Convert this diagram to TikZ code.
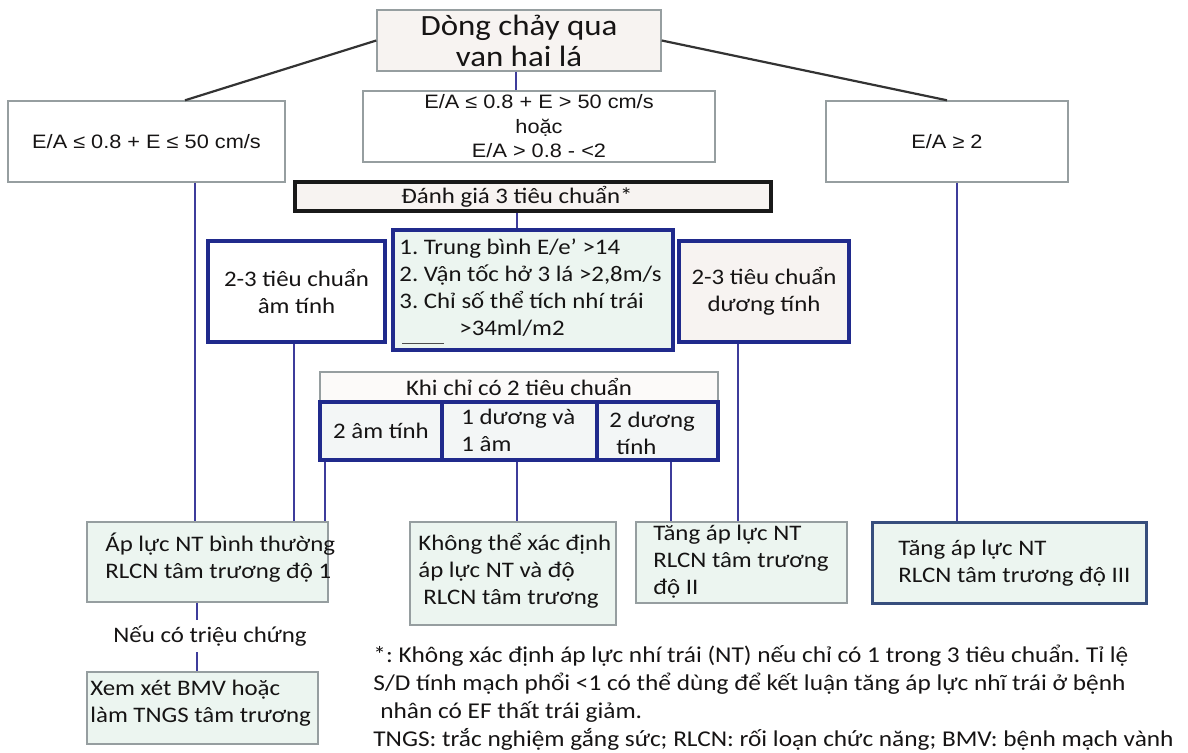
\documentclass[tikz,border=0pt]{standalone}
\usepackage{fontspec}
\setmainfont[FakeStretch=1.12]{Carlito}
\newfontfamily\arialfont[FakeStretch=1.12]{Liberation Sans}
\frenchspacing

\definecolor{softpink}{RGB}{247,243,241}
\definecolor{softgreen}{RGB}{236,245,240}
\definecolor{softgrey}{RGB}{243,246,246}
\definecolor{boxgrey}{RGB}{150,158,160}
\definecolor{boxblue}{RGB}{32,42,140}
\definecolor{linkblue}{RGB}{62,60,155}
\definecolor{slateblue}{RGB}{55,78,125}
\definecolor{inkgrey}{RGB}{22,20,20}

\tikzset{
  every node/.style={text=inkgrey},
  greybox/.style={rectangle, draw=boxgrey, line width=0.7pt, inner sep=0pt},
  bluebox/.style={rectangle, draw=boxblue, line width=1.8pt, inner sep=0pt},
  link/.style={draw=linkblue, line width=1.25pt},
  branch/.style={draw=black!80, line width=1.1pt},
  body/.style={font=\fontsize{11.1}{13.5}\selectfont},
  sans/.style={font=\arialfont\fontsize{9.7}{12.25}\selectfont},
  txt/.style={inner sep=0pt, align=left, font=\fontsize{11.1}{13.5}\selectfont},
}

\begin{document}
\begin{tikzpicture}[x=0.5pt,y=-0.5pt]
    \useasboundingbox (0,0) rectangle (1188,753);

    % mitral inflow
    \node[greybox, fill=softpink, minimum width=142pt, minimum height=30.5pt, align=center, font=\fontsize{14.7}{15.5}\selectfont] (inflow) at (519,40.5) {Dòng chảy qua\\van hai lá};

    % E/A branches
    \node[greybox, fill=white, minimum width=138.5pt, minimum height=40.5pt, sans] (ealow) at (146.5,141.5) {E/A ≤ 0.8 + E ≤ 50 cm/s};
    \node[greybox, fill=white, minimum width=176pt, minimum height=35.5pt, sans, align=center] (eamid) at (539,126.5) {E/A ≤ 0.8 + E > 50 cm/s\\hoặc\\E/A > 0.8 - <2};
    \node[greybox, fill=white, minimum width=121pt, minimum height=40.5pt, sans] (eahigh) at (947,141.5) {E/A ≥ 2};
    \draw[branch] (inflow.west) -- (ealow.north -| 185,0);
    \draw[branch] (inflow.east) -- (eahigh.north);
    \draw[link] (inflow.south -| 516,0) -- (eamid.north -| 516,0);

    % three criteria
    \node[rectangle, draw=black!90, line width=2pt, fill=softpink, minimum width=238pt, minimum height=14.5pt, inner sep=0pt, body] (assess) at (533,196.5) {Đánh giá 3 tiêu chuẩn*\kern16pt};
    \node[bluebox, fill=white, minimum width=88.5pt, minimum height=50.5pt, body, align=center] (negall) at (296.5,291.5) {2-3 tiêu chuẩn\\âm tính};
    \node[bluebox, fill=softgreen, minimum width=140pt, minimum height=60pt] (crit) at (533,290) {};
    \node[txt, anchor=west] (crittext) at (399,288) {1. Trung bình E/e’ >14\\2. Vận tốc hở 3 lá >2,8m/s\\3. Chỉ số thể tích nhí trái\\\hspace*{30pt}>34ml/m2};
    \draw[black!70, line width=0.6pt] ([shift={(5.5pt,4pt)}]crit.south west) -- ++(21pt,0);
    \node[bluebox, fill=softpink, minimum width=85pt, minimum height=50.5pt, body, align=center] (posall) at (764,291.5) {2-3 tiêu chuẩn\\dương tính};
    \draw[link] (assess.south -| 517,0) -- (crit.north -| 517,0);

    % only two criteria
    \node[greybox, fill=softpink!40, minimum width=199pt, minimum height=15pt, body] (onlytwo) at (519,387) {Khi chỉ có 2 tiêu chuẩn};
    \node[bluebox, fill=softgrey, minimum width=61pt, minimum height=29pt, body] (twoneg) at (381,431) {2 âm tính};
    \node[bluebox, fill=softgrey, minimum width=77.5pt, minimum height=29pt] (mixed) at (519.5,431) {};
    \node[txt, anchor=west] (mixedtext) at (461,430.5) {1 dương và\\1 âm};
    \node[bluebox, fill=softgrey, minimum width=60.5pt, minimum height=29pt] (twopos) at (657.5,431) {};
    \node[txt, anchor=west] (twopostext) at (609,433.5) {2 dương\\\hspace*{3.5pt}tính};

    % outcomes
    \node[greybox, fill=softgreen, minimum width=120.5pt, minimum height=40pt] (normal) at (207.5,562) {};
    \node[txt, anchor=west] (normaltext) at (105,557.5) {Áp lực NT bình thường\\RLCN tâm trương độ 1};
    \node[greybox, fill=softgreen, minimum width=103pt, minimum height=51.5pt] (unknown) at (513,573.5) {};
    \node[txt, anchor=west] (unknowntext) at (418,570.5) {Không thể xác định\\áp lực NT và độ\\\hspace*{2.5pt}RLCN tâm trương};
    \node[greybox, fill=softgreen, minimum width=105.5pt, minimum height=40.5pt] (gradetwo) at (741.5,562.5) {};
    \node[txt, anchor=west] (gradetwotext) at (653,562) {Tăng áp lực NT\\RLCN tâm trương\\độ II};
    \node[rectangle, draw=slateblue, line width=1.5pt, fill=softgreen, minimum width=137pt, minimum height=40.5pt] (gradethree) at (1009,562.5) {};
    \node[txt, anchor=west] (gradethreetext) at (898,563.5) {Tăng áp lực NT\\RLCN tâm trương độ III};

    % links down to outcomes
    \draw[link] (ealow.south -| 195,0) -- (normal.north -| 195,0);
    \draw[link] (negall.south -| 294,0) -- (normal.north -| 294,0);
    \draw[link] (twoneg.south -| 325,0) -- (normal.north -| 325,0);
    \draw[link] (mixed.south -| 517,0) -- (unknown.north -| 517,0);
    \draw[link] (twopos.south -| 671,0) -- (gradetwo.north -| 671,0);
    \draw[link] (posall.south -| 738,0) -- (gradetwo.north -| 738,0);
    \draw[link] (eahigh.south -| 957,0) -- (gradethree.north -| 957,0);

    % symptoms
    \node[body, inner sep=0pt, minimum height=16pt] (symptom) at (210,636) {Nếu có triệu chứng};
    \node[greybox, fill=softgreen, minimum width=115.5pt, minimum height=36pt] (stress) at (202.5,708) {};
    \node[txt, anchor=west] (stresstext) at (90,703.5) {Xem xét BMV hoặc\\làm TNGS tâm trương};
    \draw[link] (normal.south -| 197,0) -- (symptom.north -| 197,0);
    \draw[link] (symptom.south -| 197,0) -- (stress.north -| 197,0);

    % footnote
    \node[txt, anchor=north west, font=\fontsize{11.3}{13.85}\selectfont] (note) at (373,645) {*: Không xác định áp lực nhí trái (NT) nếu chỉ có 1 trong 3 tiêu chuẩn. Tỉ lệ\\S/D tính mạch phổi <1 có thể dùng để kết luận tăng áp lực nhĩ trái ở bệnh\\\hspace*{3.5pt}nhân có EF thất trái giảm.\\TNGS: trắc nghiệm gắng sức; RLCN: rối loạn chức năng; BMV: bệnh mạch vành};

\end{tikzpicture}
\end{document}
